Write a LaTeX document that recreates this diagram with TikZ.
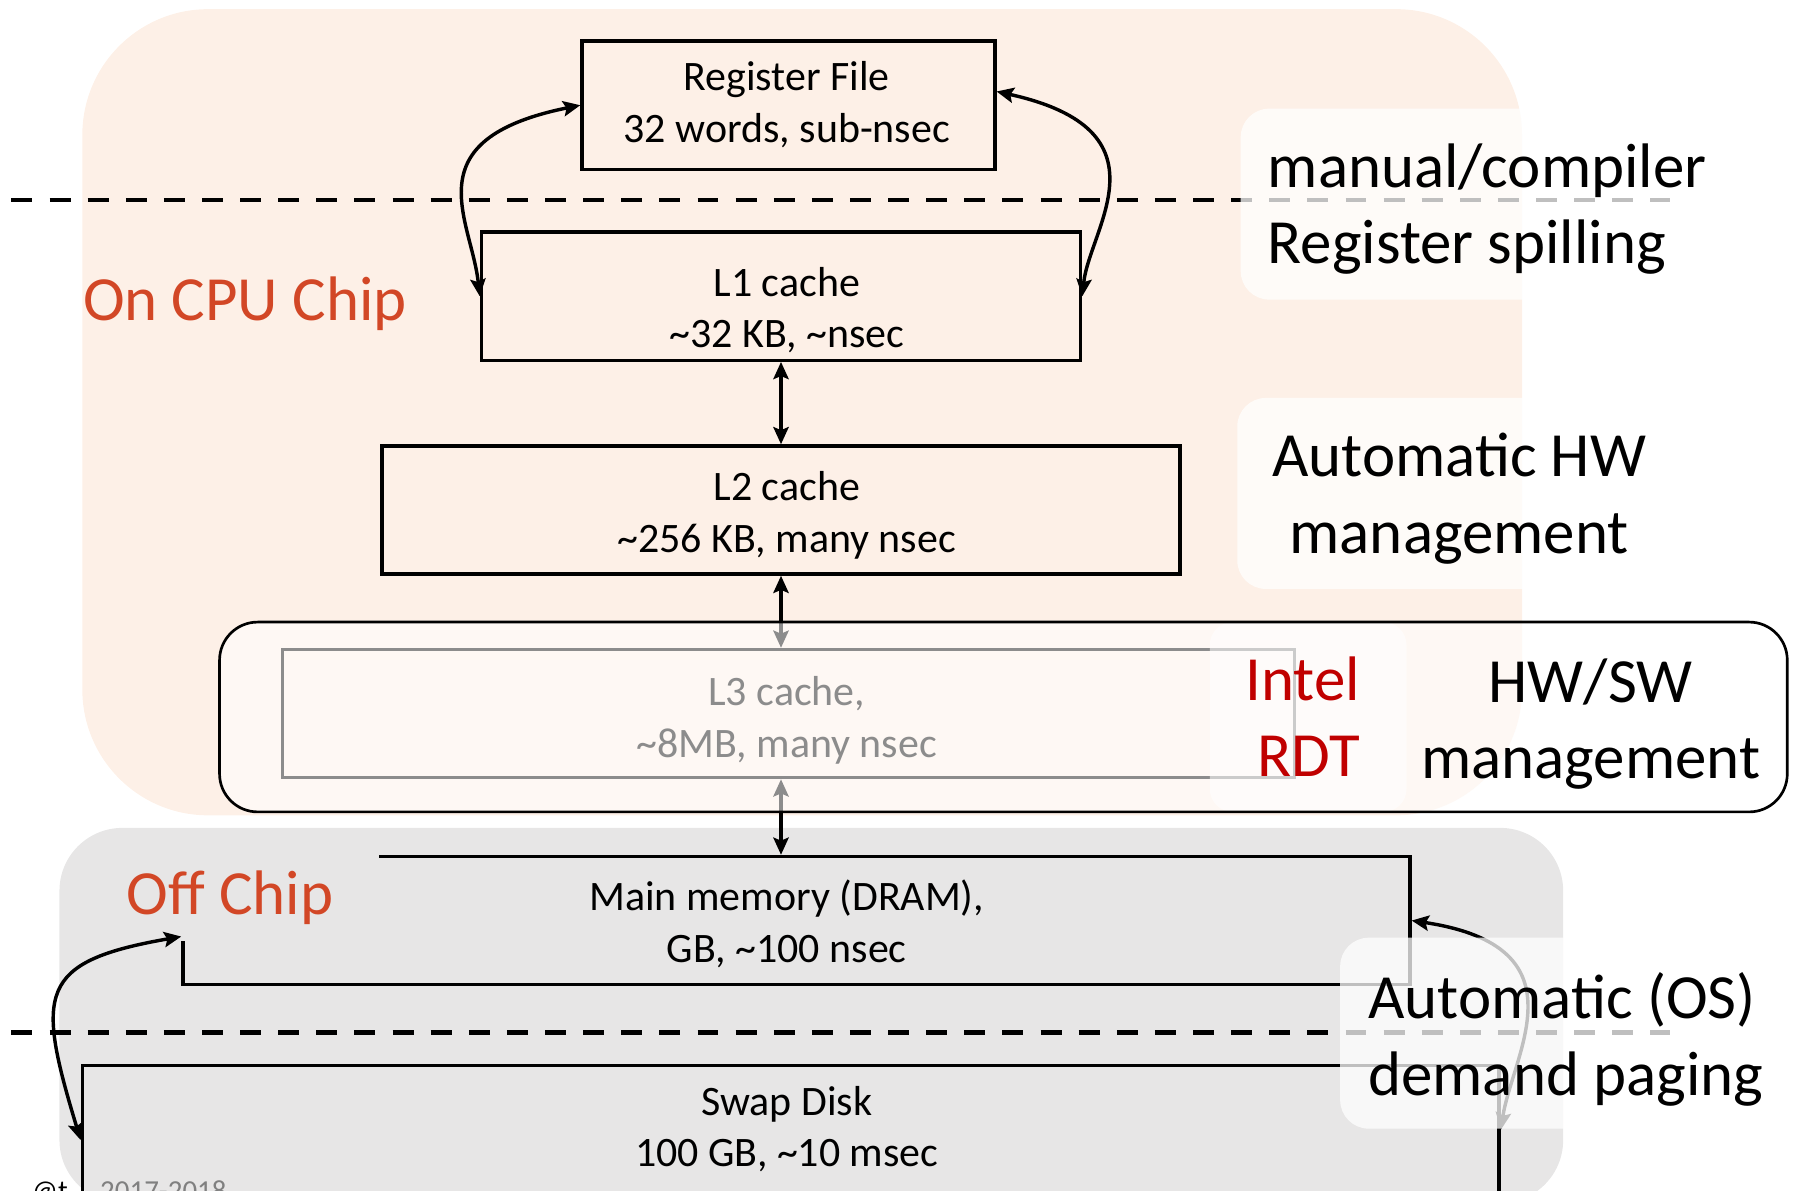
\documentclass[tikz,border=0pt]{standalone}
\usepackage{fontspec}
\setmainfont{Carlito}
\usetikzlibrary{arrows.meta}
\definecolor{chipfill}{HTML}{FDF0E7}
\definecolor{offfill}{HTML}{E7E6E6}
\definecolor{chiptext}{HTML}{D24726}
\definecolor{rdtred}{HTML}{C00000}
\newcommand\boxfont{\fontsize{11}{13.5}\selectfont}
\newcommand\bigfont{\fontsize{16.5}{20}\selectfont}

\begin{document}
\begin{tikzpicture}[x=0.3pt, y=-0.3pt,
    tier/.style={draw, line width=0.9pt, inner sep=0pt, minimum height=33.6pt},
    celltxt/.style={inner sep=0pt, align=center, font=\boxfont},
    biarrow/.style={line width=0.9pt, >={Stealth[length=4.5pt,width=4pt,inset=0.8pt]}, <->},
    divider/.style={line width=1.2pt, dash pattern=on 5.5pt off 4.5pt},
    veil/.style={fill=white, fill opacity=0.75, rounded corners=7.5pt},
    lbl/.style={inner sep=0pt, font=\bigfont}]
    \useasboundingbox (0,0) rectangle (1568,1041);
    % chip regions
    \fill[chipfill, rounded corners=33pt] (72,8) rectangle (1331,713);
    \fill[offfill, rounded corners=16.5pt] (52,724) rectangle (1367,1052);
    \draw[divider] (10,175) -- (1460,175);
    \draw[divider] (10,903) -- (1460,903);
    % memory hierarchy
    \node[tier, minimum width=108.3pt] at (689.5,92) (rf) {};
    \node[tier, minimum width=157.2pt] at (683,259) (l1) {};
    \node[tier, minimum width=209.4pt] at (683,446) (l2) {};
    \node[tier, minimum width=265.5pt] at (689.5,624) (l3) {};
    \node[tier, minimum width=321.9pt] at (696.5,805) (mem) {};
    \node[tier, minimum width=371.7pt] at (691.5,988) (swap) {};
    \node[celltxt] at (688,91.5) (rftxt) {Register File\\32 words, sub-nsec};
    \node[celltxt] at (688,271) (l1txt) {L1 cache\\\textasciitilde32 KB, \textasciitilde nsec};
    \node[celltxt] at (688,450.5) (l2txt) {L2 cache\\\textasciitilde256 KB, many nsec};
    \node[celltxt] at (688,630) (l3txt) {L3 cache,\\\textasciitilde8MB, many nsec};
    \node[celltxt] at (688,808) (memtxt) {Main memory (DRAM),\\GB, \textasciitilde100 nsec};
    \node[celltxt] at (688,987.5) (swaptxt) {Swap Disk\\100 GB, \textasciitilde10 msec};
    % label hides the corner of main memory
    \node[lbl, fill=offfill, inner xsep=12pt, inner ysep=4.2pt, anchor=base west, text=chiptext] at (70,800) (off) {Off Chip};
    % transfers
    \draw[biarrow] (rf.west) .. controls +(-148,30) and +(-7,-67) .. (l1.west);
    \draw[biarrow] ([yshift=3.6pt]rf.east) .. controls +(154,34) and +(6,-59) .. (l1.east);
    \draw[biarrow] (l1) -- (l2);
    \draw[biarrow] (l2.south) -- (l2.south |- l3.north);
    \draw[biarrow] (l2.south |- l3.south) -- (l2.south |- mem.north);
    \draw[biarrow] ([yshift=-2.7pt]swap.west) .. controls +(-39,-129) and +(-126,22) .. ([yshift=-4.2pt]mem.west);
    \draw[biarrow] (mem.east) .. controls +(153,23) and +(10,-66) .. (swap.east);
    % L3 band
    \fill[white, fill opacity=0.55, rounded corners=10pt] (192,544) rectangle (1563,710);
    \fill[veil, fill opacity=0.55, rounded corners=6pt] (1058,544) rectangle (1230,710);
    \draw[line width=0.7pt, rounded corners=10pt] (192,544) rectangle (1563,710);
    % management notes
    \fill[veil] (1085,95) rectangle (1560,262);
    \fill[veil] (1082,348) rectangle (1560,515);
    \fill[veil] (1172,820) rectangle (1600,987);
    \node[lbl, anchor=west, align=left] at (1108,183) (spill) {manual/compiler\\Register spilling};
    \node[lbl, align=center] at (1276,436) (hwman) {Automatic HW\\management};
    \node[lbl, anchor=east, align=right, text=rdtred] at (1190,627) (rdt) {Intel\\RDT};
    \node[lbl, align=center] at (1391,633) (hwsw) {HW/SW\\management};
    \node[lbl, anchor=west, align=left] at (1196,909) (paging) {Automatic (OS)\\demand paging};
    \node[lbl, anchor=base west, text=chiptext] at (72,280) (on) {On CPU Chip};
    % footer, cut by the page edge
    \node[anchor=base east, inner sep=0pt, font=\fontsize{7.6}{9}\selectfont] at (60,1050) (who) {@t};
    \node[anchor=base west, inner sep=0pt, text=gray, font=\fontsize{7.6}{9}\selectfont] at (87,1050) (year) {2017-2018};
\end{tikzpicture}
\end{document}
